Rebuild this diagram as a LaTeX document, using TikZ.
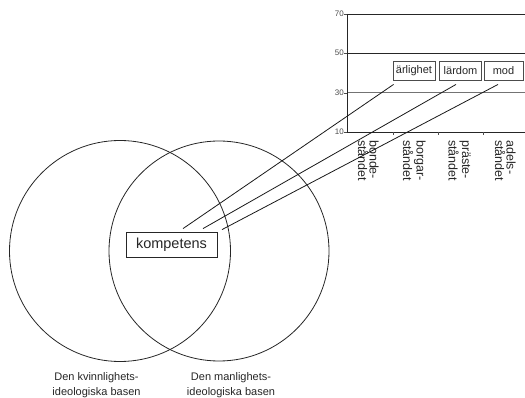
\documentclass[tikz,border=0pt]{standalone}
\usepackage{fontspec}
\setmainfont{Liberation Sans}
\begin{document}
\begin{tikzpicture}[x=1pt,y=-1pt,
  txt/.style={text=black!85, inner sep=0pt},
  gridline/.style={line width=0.8pt, black!85},
  tickline/.style={line width=0.6pt, black!70},
  wordbox/.style={draw=black!70, line width=0.9pt, minimum height=19pt, inner sep=0pt, font=\fontsize{11}{13}\selectfont, text=black!85},
  catlabel/.style={txt, rotate=-90, anchor=north west, align=left, font=\fontsize{12.5}{11.5}\selectfont},
  axlabel/.style={txt, anchor=east, font=\fontsize{8}{9}\selectfont, text=black!70},
  venn/.style={line width=0.8pt, black!85},
  link/.style={line width=0.8pt, black!90}]
\useasboundingbox (0,0) rectangle (525,398);
% chart
\draw[gridline] (347,14) -- (525,14);
\draw[gridline] (347,53) -- (525,53);
\draw[gridline, black!55, line width=1pt] (347,93) -- (525,93);
\draw[gridline] (347,132) -- (525,132);
\draw[gridline] (347,14) -- (347,132);
\foreach \y/\l in {14/70,53/50,93/30,132/10}{
  \draw[tickline] (344,\y) -- (347,\y);
  \node[axlabel] (ax\l) at (344,\y) {\l};
}
\foreach \x in {393,438,483}{
  \draw[tickline] (\x,132) -- (\x,135);
}
\node[catlabel] (c1) at (379,140) {bonde-\\ståndet};
\node[catlabel] (c2) at (426,140) {borgar-\\ståndet};
\node[catlabel] (c3) at (471,140) {präste-\\ståndet};
\node[catlabel] (c4) at (516,140) {adels-\\ståndet};
% word boxes
\node[wordbox, minimum width=42pt] (arl) at (414,70.5) {ärlighet};
\node[wordbox, minimum width=42pt] (lar) at (460.5,70.5) {lärdom};
\node[wordbox, minimum width=39pt] (mod) at (503.5,70.5) {mod};
% venn
\draw[venn] (120,251) circle (110.5);
\draw[venn] (219,251) circle (110);
\node[txt, align=center, font=\fontsize{11}{14.5}\selectfont] (lb1) at (96.5,385) {Den kvinnlighets-\\ideologiska basen};
\node[txt, align=center, font=\fontsize{11}{14.5}\selectfont] (lb2) at (231,385) {Den manlighets-\\ideologiska basen};
% kompetens
\node[draw=black!85, line width=0.8pt, minimum width=91pt, minimum height=25pt, inner sep=0pt, font=\fontsize{14.5}{16}\selectfont, text=black!85] (komp) at (171.5,244.5) {kompetens};
% links
\coordinate (k1) at ([xshift=11.5pt,yshift=3pt]komp.north);
\coordinate (k2) at ([xshift=31.5pt,yshift=3pt]komp.north);
\coordinate (k3) at ([xshift=50.5pt,yshift=2pt]komp.north);
\coordinate (e1) at ([xshift=1pt,yshift=-4pt]arl.south west);
\coordinate (e2) at ([xshift=-4.5pt,yshift=-4pt]lar.south);
\coordinate (e3) at ([xshift=-5.5pt,yshift=-4pt]mod.south);
\draw[link] (k1) -- (e1);
\draw[link] (k2) -- (e2);
\draw[link] (k3) -- (e3);
\end{tikzpicture}
\end{document}
